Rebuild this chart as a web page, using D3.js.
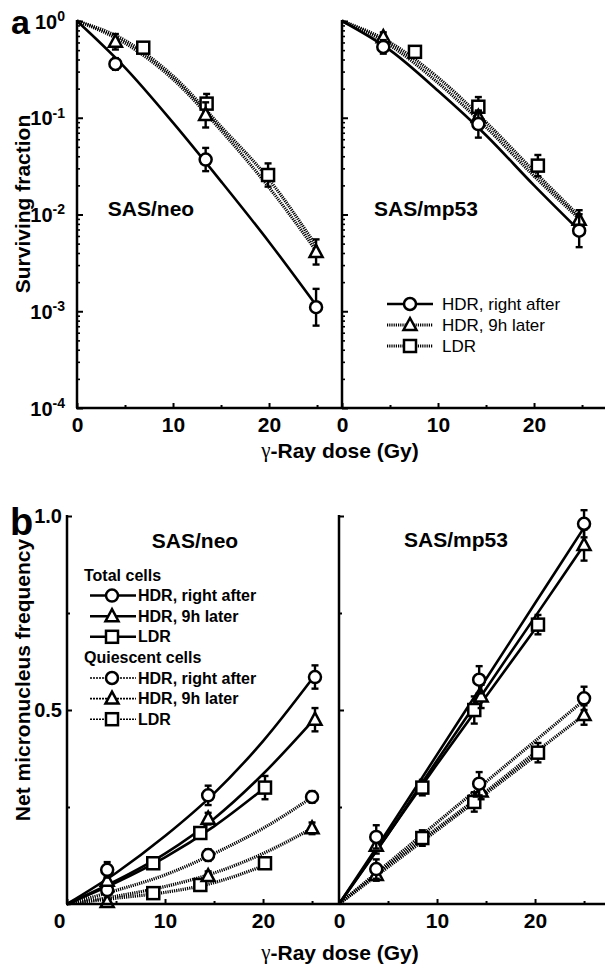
<!DOCTYPE html>
<html>
<head>
<meta charset="utf-8">
<script src="https://cdn.jsdelivr.net/npm/d3@7"></script>
<style>
  body { margin: 0; background: #fff; }
  svg { display: block; }
  text { font-family: "Liberation Sans", Arial, sans-serif; fill: #000; }
</style>
</head>
<body>
<div id="wrapper"></div>
<script>
// ---- panel a : surviving fraction (log scale) ----
const aMajorDose = [0, 10, 20];
const aMinorDose = [5, 15, 25];
const aDecades = [1, 0.1, 0.01, 0.001, 0.0001];
const aDecadeExp = ["0", "-1", "-2", "-3", "-4"];
const aFitDose = [0, 5, 10, 15, 20, 25];

// SAS/neo
const neoHdrNowDose = [4.0, 13.4, 24.9];
const neoHdrNowSF = [0.36, 0.037, 0.0011];
const neoHdrNowErr = [0.06, 0.12, 0.19];          // error in decades
const neoHdr9hDose = [4.0, 13.4, 24.9];
const neoHdr9hSF = [0.61, 0.107, 0.0041];
const neoHdr9hErr = [0.08, 0.13, 0.13];
const neoLdrDose = [6.9, 13.5, 19.9];
const neoLdrSF = [0.53, 0.14, 0.0256];
const neoLdrErr = [0.05, 0.1, 0.12];
const neoHdrNowFit = [1, 0.33, 0.089, 0.022, 0.0052, 0.00112];
const neoHdr9hFit = [1, 0.59, 0.25, 0.074, 0.019, 0.0041];
const neoLdrFit = [1, 0.63, 0.27, 0.081, 0.023, 0.0046];

// SAS/mp53
const mpHdrNowDose = [4.3, 14.2, 24.7];
const mpHdrNowSF = [0.54, 0.086, 0.0068];
const mpHdrNowErr = [0.07, 0.14, 0.17];
const mpHdr9hDose = [4.3, 14.2, 24.7];
const mpHdr9hSF = [0.68, 0.102, 0.0088];
const mpHdr9hErr = [0.05, 0.06, 0.1];
const mpLdrDose = [7.6, 14.2, 20.4];
const mpLdrSF = [0.48, 0.13, 0.032];
const mpLdrErr = [0.05, 0.1, 0.11];
const mpHdrNowFit = [1, 0.5, 0.19, 0.066, 0.02, 0.0064];
const mpHdr9hFit = [1, 0.56, 0.23, 0.08, 0.025, 0.0085];
const mpLdrFit = [1, 0.6, 0.26, 0.09, 0.028, 0.009];

// ---- panel b : net micronucleus frequency ----
const bMajorTicks = [0.5, 1.0];
const bMinorTicks = [0.25, 0.75];
const bFitDose = [0, 5, 10, 15, 20, 25];
const bFitDoseLdr = [0, 5, 10, 15, 20.2];

// SAS/neo, total cells
const neoTotNowDose = [4.1, 14.4, 25.3];
const neoTotNowMN = [0.088, 0.28, 0.585];
const neoTotNowErr = [0.02, 0.025, 0.03];
const neoTot9hDose = [4.1, 14.4, 25.3];
const neoTot9hMN = [0.06, 0.22, 0.475];
const neoTot9hErr = [0.01, 0.015, 0.03];
const neoTotLdrDose = [8.8, 13.6, 20.2];
const neoTotLdrMN = [0.105, 0.183, 0.30];
const neoTotLdrErr = [0.01, 0.015, 0.03];
// SAS/neo, quiescent cells
const neoQNowDose = [4.1, 14.4, 25.0];
const neoQNowMN = [0.036, 0.126, 0.276];
const neoQNowErr = [0.01, 0.015, 0.015];
const neoQ9hDose = [4.1, 14.4, 25.0];
const neoQ9hMN = [0.005, 0.072, 0.195];
const neoQ9hErr = [0.008, 0.012, 0.015];
const neoQLdrDose = [8.8, 13.6, 20.2];
const neoQLdrMN = [0.028, 0.049, 0.105];
const neoQLdrErr = [0.008, 0.012, 0.012];
const neoTotNowFit = [0, 0.08, 0.175, 0.285, 0.42, 0.58];
const neoTot9hFit = [0, 0.06, 0.13, 0.22, 0.335, 0.47];
const neoTotLdrFit = [0, 0.055, 0.12, 0.2, 0.3];
const neoQNowFit = [0, 0.035, 0.075, 0.13, 0.195, 0.275];
const neoQ9hFit = [0, 0.02, 0.045, 0.08, 0.13, 0.195];
const neoQLdrFit = [0, 0.015, 0.03, 0.055, 0.1];

// SAS/mp53, total cells
const mpTotNowDose = [3.8, 14.3, 25.0];
const mpTotNowMN = [0.173, 0.578, 0.98];
const mpTotNowErr = [0.03, 0.035, 0.035];
const mpTot9hDose = [3.8, 14.5, 25.0];
const mpTot9hMN = [0.15, 0.535, 0.925];
const mpTot9hErr = [0.02, 0.03, 0.04];
const mpTotLdrDose = [8.5, 13.8, 20.3];
const mpTotLdrMN = [0.30, 0.50, 0.72];
const mpTotLdrErr = [0.02, 0.035, 0.025];
// SAS/mp53, quiescent cells
const mpQNowDose = [3.8, 14.3, 25.0];
const mpQNowMN = [0.09, 0.31, 0.53];
const mpQNowErr = [0.025, 0.03, 0.03];
const mpQ9hDose = [3.8, 14.5, 25.0];
const mpQ9hMN = [0.075, 0.29, 0.487];
const mpQ9hErr = [0.015, 0.02, 0.025];
const mpQLdrDose = [8.5, 13.8, 20.3];
const mpQLdrMN = [0.17, 0.263, 0.39];
const mpQLdrErr = [0.02, 0.025, 0.025];
const mpTotNowFit = [0, 0.19, 0.385, 0.58, 0.775, 0.97];
const mpTot9hFit = [0, 0.18, 0.37, 0.555, 0.74, 0.925];
const mpTotLdrFit = [0, 0.18, 0.36, 0.535, 0.715];
const mpQNowFit = [0, 0.105, 0.21, 0.315, 0.42, 0.525];
const mpQ9hFit = [0, 0.1, 0.195, 0.29, 0.39, 0.487];
const mpQLdrFit = [0, 0.095, 0.19, 0.285, 0.385];

const legendA = ["HDR, right after", "HDR, 9h later", "LDR"];
const legendAShape = ["circle", "triangle", "square"];

// --------------------------------------------------------------
const W = 605, H = 968;
const svg = d3.select("#wrapper").append("svg").attr("width", W).attr("height", H);

const FONT = "Liberation Sans, Arial, sans-serif";
const hatch = "1.2,1";

function marker(g, shape, x, y) {
    let m;
    if (shape === "circle") {
        m = g.append("circle").attr("cx", x).attr("cy", y).attr("r", 6);
    } else if (shape === "square") {
        m = g.append("rect").attr("x", x - 6).attr("y", y - 6).attr("width", 12).attr("height", 12);
    } else {
        m = g.append("path").attr("d", `M${x},${y - 7}L${x + 6.5},${y + 5}L${x - 6.5},${y + 5}Z`);
    }
    m.attr("fill", "#fff").attr("stroke", "#000").attr("stroke-width", 2.5);
}

function drawFit(g, xs, ys, doses, vals, dotted) {
    const line = d3.line()
        .x((d, i) => xs(doses[i]))
        .y(d => ys(d))
        .curve(d3.curveMonotoneX);
    g.append("path")
        .attr("d", line(vals))
        .attr("fill", "none")
        .attr("stroke", "#000")
        .attr("stroke-width", dotted ? 3.2 : 2.6)
        .attr("stroke-dasharray", dotted ? hatch : null);
}

function drawPoints(g, xs, ys, doses, vals, errs, shape, logErr) {
    doses.forEach((d, i) => {
        const x = xs(d);
        let lo, hi;
        if (logErr) {
            lo = ys(vals[i] / Math.pow(10, errs[i]));
            hi = ys(vals[i] * Math.pow(10, errs[i]));
        } else {
            lo = ys(vals[i] - errs[i]);
            hi = ys(vals[i] + errs[i]);
        }
        g.append("line").attr("x1", x).attr("x2", x).attr("y1", lo).attr("y2", hi)
            .attr("stroke", "#000").attr("stroke-width", 2.4);
        [lo, hi].forEach(yy => g.append("line")
            .attr("x1", x - 3.5).attr("x2", x + 3.5).attr("y1", yy).attr("y2", yy)
            .attr("stroke", "#000").attr("stroke-width", 2.4));
        marker(g, shape, x, ys(vals[i]));
    });
}

function xAxis(g, xs, y, zeroShift) {
    g.append("g").attr("transform", `translate(0,${y})`)
        .call(d3.axisBottom(xs).tickValues(aMajorDose).tickSizeInner(-5).tickSizeOuter(0).tickPadding(9))
        .call(a => a.select(".domain").remove())
        .call(a => a.selectAll("line").attr("stroke-width", 2))
        .call(a => a.selectAll("text").attr("font-family", FONT).attr("font-weight", "bold").attr("font-size", 21)
            .attr("dx", d => (d === 0 && zeroShift) ? zeroShift : 0));
    g.append("g").attr("transform", `translate(0,${y})`)
        .call(d3.axisBottom(xs).tickValues(aMinorDose).tickSizeInner(-3).tickSizeOuter(0).tickFormat(""))
        .call(a => a.select(".domain").remove())
        .call(a => a.selectAll("line").attr("stroke-width", 2));
}

function axisLine(x1, y1, x2, y2) {
    svg.append("line").attr("x1", x1).attr("y1", y1).attr("x2", x2).attr("y2", y2)
        .attr("stroke", "#000").attr("stroke-width", 2.5);
}

function boldText(x, y, txt, size, anchor) {
    return svg.append("text").attr("x", x).attr("y", y).attr("text-anchor", anchor || "middle")
        .attr("dominant-baseline", "central")
        .attr("font-weight", "bold").attr("font-size", size).text(txt);
}

function doseTitle(cx, cy) {
    const t = svg.append("text").attr("x", cx).attr("y", cy).attr("text-anchor", "middle")
        .attr("dominant-baseline", "central").attr("font-weight", "bold").attr("font-size", 21);
    t.append("tspan").attr("font-family", "Liberation Serif, Times New Roman, serif").attr("font-weight", "normal").text("γ");
    t.append("tspan").text("-Ray dose (Gy)");
}

// ================= panel a =================
const aTop = 21, aBot = 408;
const yA = d3.scaleLog().domain([1e-4, 1]).range([aBot, aTop]);
const xANeo = d3.scaleLinear().domain([0, 27.6]).range([77, 342]);
const xAMp = d3.scaleLinear().domain([0, 27.6]).range([342, 607]);

const gA = svg.append("g");
// y ticks (log) on both panels
[xANeo, xAMp].forEach((xs, k) => {
    const x0 = xs(0);
    const minor = [];
    for (let e = -4; e < 0; e++) for (let m = 2; m <= 9; m++) minor.push(m * Math.pow(10, e));
    gA.append("g").attr("transform", `translate(${x0},0)`)
        .call(d3.axisLeft(yA).tickValues(minor).tickSizeInner(-3).tickSizeOuter(0).tickFormat(""))
        .call(a => a.select(".domain").remove())
        .call(a => a.selectAll("line").attr("stroke-width", 1.6));
    const major = gA.append("g").attr("transform", `translate(${x0},0)`)
        .call(d3.axisLeft(yA).tickValues(aDecades).tickSizeInner(-6).tickSizeOuter(0).tickPadding(11).tickFormat(""))
        .call(a => a.select(".domain").remove())
        .call(a => a.selectAll("line").attr("stroke-width", 2));
    if (k === 0) {
        major.selectAll(".tick text").each(function (d, i) {
            const t = d3.select(this).attr("font-family", FONT).attr("font-weight", "bold")
                .attr("font-size", 20).attr("x", -12).attr("dy", "0.35em");
            t.append("tspan").text("10");
            t.append("tspan").attr("font-size", 14).attr("dy", "-0.55em").text(aDecadeExp[i]);
        });
    }
});
xAxis(gA, xANeo, aBot, 0);
xAxis(gA, xAMp, aBot, 0);
axisLine(77, aTop - 1, 77, aBot);
axisLine(342, aTop - 1, 342, aBot);
axisLine(76, aBot, W, aBot);

// fits
drawFit(gA, xANeo, yA, aFitDose, neoLdrFit, true);
drawFit(gA, xANeo, yA, aFitDose, neoHdr9hFit, true);
drawFit(gA, xANeo, yA, aFitDose, neoHdrNowFit, false);
drawFit(gA, xAMp, yA, aFitDose, mpLdrFit, true);
drawFit(gA, xAMp, yA, aFitDose, mpHdr9hFit, true);
drawFit(gA, xAMp, yA, aFitDose, mpHdrNowFit, false);
// points
drawPoints(gA, xANeo, yA, neoLdrDose, neoLdrSF, neoLdrErr, "square", true);
drawPoints(gA, xANeo, yA, neoHdr9hDose, neoHdr9hSF, neoHdr9hErr, "triangle", true);
drawPoints(gA, xANeo, yA, neoHdrNowDose, neoHdrNowSF, neoHdrNowErr, "circle", true);
drawPoints(gA, xAMp, yA, mpLdrDose, mpLdrSF, mpLdrErr, "square", true);
drawPoints(gA, xAMp, yA, mpHdr9hDose, mpHdr9hSF, mpHdr9hErr, "triangle", true);
drawPoints(gA, xAMp, yA, mpHdrNowDose, mpHdrNowSF, mpHdrNowErr, "circle", true);

boldText(151, 208, "SAS/neo", 21);
boldText(426, 208, "SAS/mp53", 21);
svg.append("text").attr("transform", "translate(22,204) rotate(-90)")
    .attr("text-anchor", "middle").attr("dominant-baseline", "central")
    .attr("font-weight", "bold").attr("font-size", 21).text("Surviving fraction");
doseTitle(340, 450);
svg.append("text").attr("x", 11).attr("y", 34).attr("font-family", "Liberation Serif, Times New Roman, serif")
    .attr("font-weight", "bold").attr("font-size", 34).text("a");

// legend a
legendA.forEach((lbl, i) => {
    const y = 304 + i * 21;
    const ln = gA.append("line").attr("x1", 387).attr("x2", 433).attr("y1", y).attr("y2", y)
        .attr("stroke", "#000").attr("stroke-width", i === 0 ? 2.5 : 3);
    if (i > 0) ln.attr("stroke-dasharray", hatch);
    marker(gA, legendAShape[i], 410, y);
    svg.append("text").attr("x", 442).attr("y", y).attr("dominant-baseline", "central")
        .attr("font-size", 17).text(lbl);
});

// ================= panel b =================
const bTop = 516, bBot = 904;
const yB = d3.scaleLinear().domain([0, 1]).range([bBot, bTop]);
const xBNeo = d3.scaleLinear().domain([0, 27.75]).range([67, 339]);
const xBMp = d3.scaleLinear().domain([0, 27.75]).range([339, 611]);
const gB = svg.append("g");

[xBNeo, xBMp].forEach((xs, k) => {
    const x0 = xs(0);
    gB.append("g").attr("transform", `translate(${x0},0)`)
        .call(d3.axisLeft(yB).tickValues(bMinorTicks).tickSizeInner(-3).tickSizeOuter(0).tickFormat(""))
        .call(a => a.select(".domain").remove())
        .call(a => a.selectAll("line").attr("stroke-width", 2));
    gB.append("g").attr("transform", `translate(${x0},0)`)
        .call(d3.axisLeft(yB).tickValues(bMajorTicks).tickSizeInner(-5).tickSizeOuter(0).tickPadding(5)
            .tickFormat(k === 0 ? d3.format(".1f") : ""))
        .call(a => a.select(".domain").remove())
        .call(a => a.selectAll("line").attr("stroke-width", 2))
        .call(a => a.selectAll("text").attr("font-family", FONT).attr("font-weight", "bold").attr("font-size", 20));
});
xAxis(gB, xBNeo, bBot, -8);
xAxis(gB, xBMp, bBot, 0);
axisLine(67, bTop - 1, 67, bBot);
axisLine(339, bTop - 1, 339, bBot);
axisLine(66, bBot, W, bBot);

drawFit(gB, xBNeo, yB, bFitDoseLdr, neoQLdrFit, true);
drawFit(gB, xBNeo, yB, bFitDose, neoQ9hFit, true);
drawFit(gB, xBNeo, yB, bFitDose, neoQNowFit, true);
drawFit(gB, xBNeo, yB, bFitDoseLdr, neoTotLdrFit, false);
drawFit(gB, xBNeo, yB, bFitDose, neoTot9hFit, false);
drawFit(gB, xBNeo, yB, bFitDose, neoTotNowFit, false);
drawFit(gB, xBMp, yB, bFitDoseLdr, mpQLdrFit, true);
drawFit(gB, xBMp, yB, bFitDose, mpQ9hFit, true);
drawFit(gB, xBMp, yB, bFitDose, mpQNowFit, true);
drawFit(gB, xBMp, yB, bFitDoseLdr, mpTotLdrFit, false);
drawFit(gB, xBMp, yB, bFitDose, mpTot9hFit, false);
drawFit(gB, xBMp, yB, bFitDose, mpTotNowFit, false);

drawPoints(gB, xBNeo, yB, neoQLdrDose, neoQLdrMN, neoQLdrErr, "square", false);
drawPoints(gB, xBNeo, yB, neoQ9hDose, neoQ9hMN, neoQ9hErr, "triangle", false);
drawPoints(gB, xBNeo, yB, neoQNowDose, neoQNowMN, neoQNowErr, "circle", false);
drawPoints(gB, xBNeo, yB, neoTotLdrDose, neoTotLdrMN, neoTotLdrErr, "square", false);
drawPoints(gB, xBNeo, yB, neoTot9hDose, neoTot9hMN, neoTot9hErr, "triangle", false);
drawPoints(gB, xBNeo, yB, neoTotNowDose, neoTotNowMN, neoTotNowErr, "circle", false);
drawPoints(gB, xBMp, yB, mpQLdrDose, mpQLdrMN, mpQLdrErr, "square", false);
drawPoints(gB, xBMp, yB, mpQ9hDose, mpQ9hMN, mpQ9hErr, "triangle", false);
drawPoints(gB, xBMp, yB, mpQNowDose, mpQNowMN, mpQNowErr, "circle", false);
drawPoints(gB, xBMp, yB, mpTotLdrDose, mpTotLdrMN, mpTotLdrErr, "square", false);
drawPoints(gB, xBMp, yB, mpTot9hDose, mpTot9hMN, mpTot9hErr, "triangle", false);
drawPoints(gB, xBMp, yB, mpTotNowDose, mpTotNowMN, mpTotNowErr, "circle", false);

boldText(195, 540, "SAS/neo", 21);
boldText(456, 539, "SAS/mp53", 21);
svg.append("text").attr("transform", "translate(22,680) rotate(-90)")
    .attr("text-anchor", "middle").attr("dominant-baseline", "central")
    .attr("font-weight", "bold").attr("font-size", 21).text("Net micronucleus frequency");
doseTitle(340, 952);
svg.append("text").attr("x", 10).attr("y", 535).attr("font-family", "Liberation Serif, Times New Roman, serif")
    .attr("font-weight", "bold").attr("font-size", 38).text("b");

// legend b
const legendRows = [
    { head: "Total cells" },
    { lbl: legendA[0], shape: "circle", dotted: false },
    { lbl: legendA[1], shape: "triangle", dotted: false },
    { lbl: legendA[2], shape: "square", dotted: false },
    { head: "Quiescent cells" },
    { lbl: legendA[0], shape: "circle", dotted: true },
    { lbl: legendA[1], shape: "triangle", dotted: true },
    { lbl: legendA[2], shape: "square", dotted: true }
];
legendRows.forEach((r, i) => {
    const y = 575 + i * 20.6;
    if (r.head) {
        svg.append("text").attr("x", 84).attr("y", y).attr("dominant-baseline", "central")
            .attr("font-weight", "bold").attr("font-size", 16).text(r.head);
        return;
    }
    svg.append("line").attr("x1", 90).attr("x2", 136).attr("y1", y).attr("y2", y)
        .attr("stroke", "#000").attr("stroke-width", r.dotted ? 1.6 : 2.5)
        .attr("stroke-dasharray", r.dotted ? "2,1" : null);
    marker(svg, r.shape, 112, y);
    svg.append("text").attr("x", 138).attr("y", y).attr("dominant-baseline", "central")
        .attr("font-weight", "bold").attr("font-size", 16).text(r.lbl);
});
</script>
</body>
</html>
